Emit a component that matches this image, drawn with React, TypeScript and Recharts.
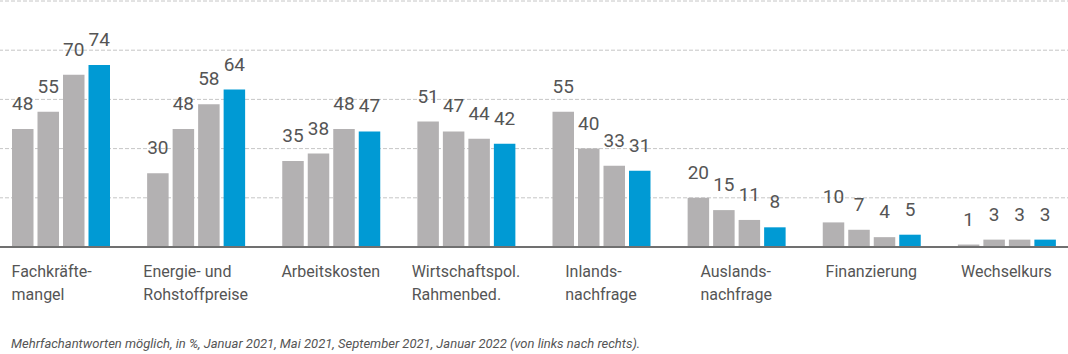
import { BarChart, Bar, XAxis, YAxis, CartesianGrid, LabelList } from "recharts"

const categories = [
  "Fachkräfte-\nmangel",
  "Energie- und\nRohstoffpreise",
  "Arbeitskosten",
  "Wirtschaftspol.\nRahmenbed.",
  "Inlands-\nnachfrage",
  "Auslands-\nnachfrage",
  "Finanzierung",
  "Wechselkurs",
]
const jan2021 = [48, 30, 35, 51, 55, 20, 10, 1]
const mai2021 = [55, 48, 38, 47, 40, 15, 7, 3]
const sep2021 = [70, 58, 48, 44, 33, 11, 4, 3]
const jan2022 = [74, 64, 47, 42, 31, 8, 5, 3]
const yTicks = [0, 20, 40, 60, 80, 100]
const note =
  "Mehrfachantworten möglich, in %, Januar 2021, Mai 2021, September 2021, Januar 2022 (von links nach rechts)."

const data = categories.map((name, i) => ({
  name,
  jan2021: jan2021[i],
  mai2021: mai2021[i],
  sep2021: sep2021[i],
  jan2022: jan2022[i],
}))

const GREY = "#b3b1b2"
const BLUE = "#009ad4"
const TEXT = "#555555"
const FONT = "Roboto, 'Noto Sans', sans-serif"

const canvasCtx =
  typeof document !== "undefined" ? document.createElement("canvas").getContext("2d") : null

function textWidth(s: string) {
  if (!canvasCtx) return s.length * 8
  canvasCtx.font = "16px Roboto"
  return canvasCtx.measureText(s).width
}

// multi-line labels: lines left aligned, block centred under the group
// (kept from running past the left edge of the first group)
function CategoryTick(props: any) {
  const { x, y, payload, index } = props
  const lines = String(payload.value).split("\n")
  const w = Math.max(...lines.map(textWidth))
  const left = index === 0 ? x - 49 : x - w / 2
  return (
    <text fill={TEXT} fontSize={16} fontFamily={FONT}>
      {lines.map((line, i) => (
        <tspan key={i} x={left} y={y + 30 + i * 23}>
          {line}
        </tspan>
      ))}
    </text>
  )
}

const series = [
  { key: "jan2021", fill: GREY },
  { key: "mai2021", fill: GREY },
  { key: "sep2021", fill: GREY },
  { key: "jan2022", fill: BLUE },
]

export default function App() {
  return (
    <div
      style={{
        position: "fixed",
        left: 0,
        top: 0,
        width: 1068,
        height: 354,
        overflow: "hidden",
        background: "#fff",
      }}
    >
      <div style={{ position: "absolute", left: -7, top: 0 }}>
        <BarChart
          width={1081}
          height={354}
          data={data}
          margin={{ top: 1, right: 0, left: 0, bottom: 0 }}
          barSize={21.5}
          barGap={4}
        >
          <CartesianGrid vertical={false} stroke="#c6c6c6" strokeDasharray="4 2" />
          <YAxis hide domain={[0, 100]} ticks={yTicks} />
          <XAxis
            dataKey="name"
            height={107}
            interval={0}
            tickLine={false}
            tickSize={0}
            tickMargin={0}
            axisLine={{ stroke: "#707070", strokeWidth: 2 }}
            tick={<CategoryTick />}
          />
          {series.map((s) => (
            <Bar key={s.key} dataKey={s.key} fill={s.fill} isAnimationActive={false}>
              <LabelList
                dataKey={s.key}
                position="top"
                offset={19}
                fill={TEXT}
                fontSize={19}
                fontFamily={FONT}
              />
            </Bar>
          ))}
        </BarChart>
      </div>
      <div
        style={{
          position: "absolute",
          left: 11,
          top: 336,
          fontFamily: FONT,
          fontStyle: "italic",
          fontSize: 13,
          color: TEXT,
          whiteSpace: "nowrap",
        }}
      >
        {note}
      </div>
    </div>
  )
}
